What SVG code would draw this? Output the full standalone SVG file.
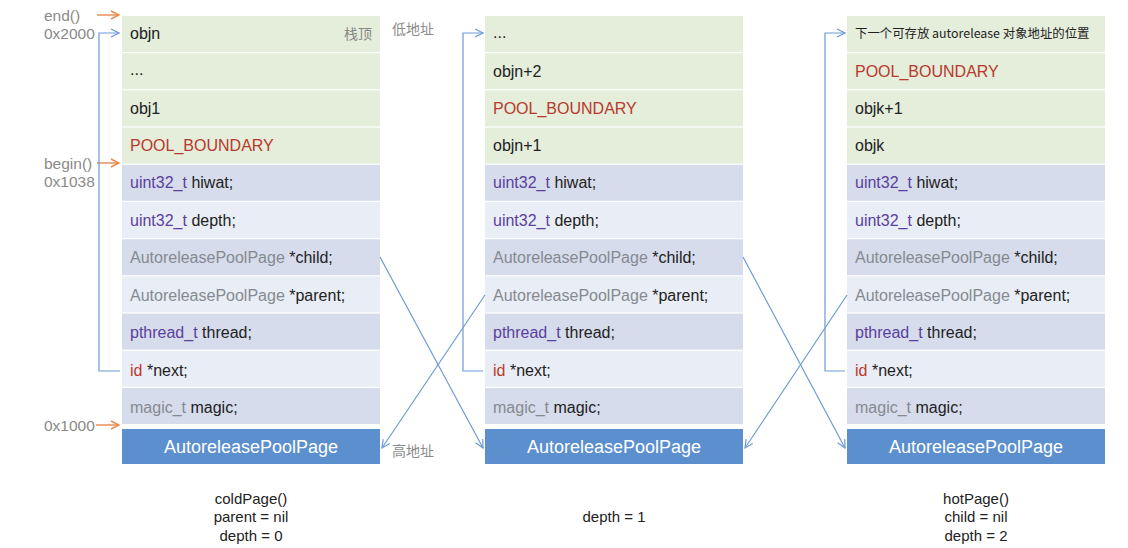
<svg xmlns="http://www.w3.org/2000/svg" width="1128" height="548" viewBox="0 0 1128 548">
<defs>
<marker id="ab" markerWidth="10" markerHeight="10" refX="9" refY="5" orient="auto" markerUnits="userSpaceOnUse"><path d="M1,1 L9,5 L1,9" fill="none" stroke="#6b9bd6" stroke-width="1.2"/></marker>
<marker id="ao" markerWidth="10" markerHeight="10" refX="9" refY="5" orient="auto" markerUnits="userSpaceOnUse"><path d="M1,1 L9,5 L1,9" fill="none" stroke="#e8894a" stroke-width="1.4"/></marker>
</defs>
<style>
text{font-family:"Liberation Sans",Arial,"Noto Sans CJK SC",sans-serif;font-size:16px;fill:#222}
.g{fill:#e5eddb}
.d{fill:#d6dcec}
.l{fill:#e9edf5}
.h{fill:#5b8fcd}
.ht{fill:#fff;font-size:18px;text-anchor:middle}
.ty{fill:#5a3f9e}
.gr{fill:#858a90}
.rd{fill:#b8392d}
.lab{fill:#8a8a8a;font-size:15.5px}
.cn{fill:#8a8a8a;font-size:14px;font-family:"Noto Sans CJK SC",sans-serif}
.bt{font-size:15px;text-anchor:middle;fill:#222}
.bl{fill:none;stroke:#6b9bd6;stroke-width:1.2}
.or{fill:none;stroke:#e8894a;stroke-width:1.4}
</style>
<rect width="1128" height="548" fill="#fff"/>

<g id="labels">
<text class="lab" x="44" y="21">end()</text>
<text class="lab" x="44" y="39">0x2000</text>
<text class="lab" x="44" y="169">begin()</text>
<text class="lab" x="44" y="187">0x1038</text>
<text class="lab" x="44" y="431">0x1000</text>
<text class="cn" x="392" y="34">低地址</text>
<text class="cn" x="392" y="456">高地址</text>
</g>

<g id="page1">
<rect class="g" x="122" y="16" width="258" height="36"/>
<rect class="g" x="122" y="53.2" width="258" height="36"/>
<rect class="g" x="122" y="90.4" width="258" height="36"/>
<rect class="g" x="122" y="127.6" width="258" height="36"/>
<rect class="d" x="122" y="164.8" width="258" height="36"/>
<rect class="l" x="122" y="202" width="258" height="36"/>
<rect class="d" x="122" y="239.2" width="258" height="36"/>
<rect class="l" x="122" y="276.4" width="258" height="36"/>
<rect class="d" x="122" y="313.6" width="258" height="36"/>
<rect class="l" x="122" y="350.8" width="258" height="36"/>
<rect class="d" x="122" y="388" width="258" height="36"/>
<rect class="h" x="122" y="429" width="258" height="35"/>
<text x="130" y="39">objn</text>
<text x="372" y="39" text-anchor="end" style="fill:#888;font-size:14px;font-family:'Noto Sans CJK SC',sans-serif">栈顶</text>
<text x="130" y="75">...</text>
<text x="130" y="114">obj1</text>
<text x="130" y="151" class="rd">POOL_BOUNDARY</text>
<text x="130" y="188"><tspan class="ty">uint32_t</tspan> hiwat;</text>
<text x="130" y="226"><tspan class="ty">uint32_t</tspan> depth;</text>
<text x="130" y="263"><tspan class="gr">AutoreleasePoolPage</tspan> *child;</text>
<text x="130" y="301"><tspan class="gr">AutoreleasePoolPage</tspan> *parent;</text>
<text x="130" y="338"><tspan class="ty">pthread_t</tspan> thread;</text>
<text x="130" y="376"><tspan class="rd">id</tspan> *next;</text>
<text x="130" y="413"><tspan class="gr">magic_t</tspan> magic;</text>
<text class="ht" x="251" y="453">AutoreleasePoolPage</text>
</g>

<g id="page2">
<rect class="g" x="485" y="16" width="258" height="36"/>
<rect class="g" x="485" y="53.2" width="258" height="36"/>
<rect class="g" x="485" y="90.4" width="258" height="36"/>
<rect class="g" x="485" y="127.6" width="258" height="36"/>
<rect class="d" x="485" y="164.8" width="258" height="36"/>
<rect class="l" x="485" y="202" width="258" height="36"/>
<rect class="d" x="485" y="239.2" width="258" height="36"/>
<rect class="l" x="485" y="276.4" width="258" height="36"/>
<rect class="d" x="485" y="313.6" width="258" height="36"/>
<rect class="l" x="485" y="350.8" width="258" height="36"/>
<rect class="d" x="485" y="388" width="258" height="36"/>
<rect class="h" x="485" y="429" width="258" height="35"/>
<text x="493" y="38">...</text>
<text x="493" y="77">objn+2</text>
<text x="493" y="114" class="rd">POOL_BOUNDARY</text>
<text x="493" y="151">objn+1</text>
<text x="493" y="188"><tspan class="ty">uint32_t</tspan> hiwat;</text>
<text x="493" y="226"><tspan class="ty">uint32_t</tspan> depth;</text>
<text x="493" y="263"><tspan class="gr">AutoreleasePoolPage</tspan> *child;</text>
<text x="493" y="301"><tspan class="gr">AutoreleasePoolPage</tspan> *parent;</text>
<text x="493" y="338"><tspan class="ty">pthread_t</tspan> thread;</text>
<text x="493" y="376"><tspan class="rd">id</tspan> *next;</text>
<text x="493" y="413"><tspan class="gr">magic_t</tspan> magic;</text>
<text class="ht" x="614" y="453">AutoreleasePoolPage</text>
</g>

<g id="page3">
<rect class="g" x="847" y="16" width="258" height="36"/>
<rect class="g" x="847" y="53.2" width="258" height="36"/>
<rect class="g" x="847" y="90.4" width="258" height="36"/>
<rect class="g" x="847" y="127.6" width="258" height="36"/>
<rect class="d" x="847" y="164.8" width="258" height="36"/>
<rect class="l" x="847" y="202" width="258" height="36"/>
<rect class="d" x="847" y="239.2" width="258" height="36"/>
<rect class="l" x="847" y="276.4" width="258" height="36"/>
<rect class="d" x="847" y="313.6" width="258" height="36"/>
<rect class="l" x="847" y="350.8" width="258" height="36"/>
<rect class="d" x="847" y="388" width="258" height="36"/>
<rect class="h" x="847" y="429" width="258" height="35"/>
<text x="855" y="38" style="font-size:12.4px;font-family:'Noto Sans CJK SC',sans-serif">下一个可存放 autorelease 对象地址的位置</text>
<text x="855" y="77" class="rd">POOL_BOUNDARY</text>
<text x="855" y="114">objk+1</text>
<text x="855" y="151">objk</text>
<text x="855" y="188"><tspan class="ty">uint32_t</tspan> hiwat;</text>
<text x="855" y="226"><tspan class="ty">uint32_t</tspan> depth;</text>
<text x="855" y="263"><tspan class="gr">AutoreleasePoolPage</tspan> *child;</text>
<text x="855" y="301"><tspan class="gr">AutoreleasePoolPage</tspan> *parent;</text>
<text x="855" y="338"><tspan class="ty">pthread_t</tspan> thread;</text>
<text x="855" y="376"><tspan class="rd">id</tspan> *next;</text>
<text x="855" y="413"><tspan class="gr">magic_t</tspan> magic;</text>
<text class="ht" x="976" y="453">AutoreleasePoolPage</text>
</g>

<g id="connectors">
<path class="or" d="M97,15 H119" marker-end="url(#ao)"/>
<path class="or" d="M97,163 H119" marker-end="url(#ao)"/>
<path class="or" d="M96,425 H119" marker-end="url(#ao)"/>
<path class="bl" d="M120,371 H99 V33 H119" marker-end="url(#ab)"/>
<path class="bl" d="M483,371 H463 V33 H483" marker-end="url(#ab)"/>
<path class="bl" d="M845,371 H825 V33 H845" marker-end="url(#ab)"/>
<path class="bl" d="M380,257 L483,448" marker-end="url(#ab)"/>
<path class="bl" d="M485,295 L382,448" marker-end="url(#ab)"/>
<path class="bl" d="M743,257 L845,448" marker-end="url(#ab)"/>
<path class="bl" d="M847,295 L745,448" marker-end="url(#ab)"/>
</g>

<g id="captions">
<text class="bt" x="251" y="504">coldPage()</text>
<text class="bt" x="251" y="522">parent = nil</text>
<text class="bt" x="251" y="541">depth = 0</text>
<text class="bt" x="614" y="522">depth = 1</text>
<text class="bt" x="976" y="504">hotPage()</text>
<text class="bt" x="976" y="522">child = nil</text>
<text class="bt" x="976" y="541">depth = 2</text>
</g>
</svg>
